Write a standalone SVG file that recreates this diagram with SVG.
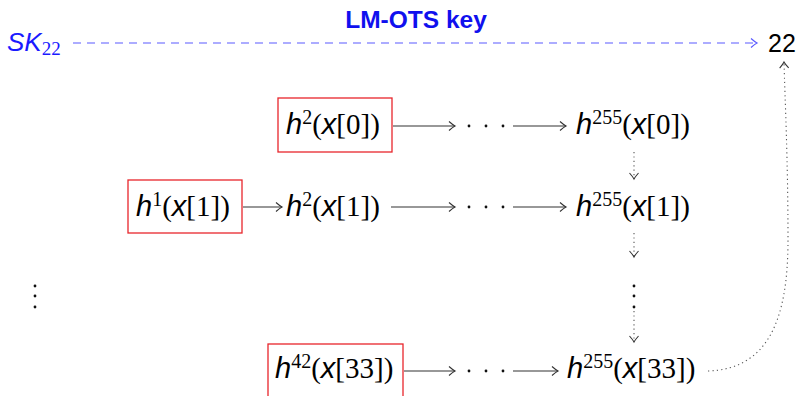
<svg xmlns="http://www.w3.org/2000/svg" width="799" height="396" viewBox="0 0 799 396">
<defs>
<style>
.t{font-size:29px;fill:#000}
.box{fill:none;stroke:#e8262b;stroke-width:1.3}
.ar{fill:none;stroke:#333;stroke-width:1.1}
.dt{fill:none;stroke:#555;stroke-width:1.1;stroke-dasharray:1.2 3.2}
.dot{fill:#111}
</style>
<marker id="ah" viewBox="-8 -6 10 12" markerWidth="10" markerHeight="12" refX="0" refY="0" orient="auto" markerUnits="userSpaceOnUse">
<path d="M-6,-4.5 Q-2,-1 0,0 Q-2,1 -6,4.5" fill="none" stroke="#333" stroke-width="1.1"/>
</marker>
<marker id="ahb" viewBox="-8 -6 10 12" markerWidth="10" markerHeight="12" refX="0" refY="0" orient="auto" markerUnits="userSpaceOnUse">
<path d="M-6,-4.5 Q-2,-1 0,0 Q-2,1 -6,4.5" fill="none" stroke="#5a5aff" stroke-width="1.2"/>
</marker>
</defs>
<rect width="799" height="396" fill="#fff"/>

<g id="title">
<text x="416" y="28" text-anchor="middle" font-family="Liberation Sans, Arial, sans-serif" font-weight="bold" font-size="24.5" fill="#1010ee">LM-OTS key</text>
</g>

<g id="sk22">
<text x="7" y="51" font-size="26" fill="#1a1aff"><tspan font-family="Liberation Sans, sans-serif" font-style="italic">SK</tspan><tspan font-family="Liberation Serif, serif" font-size="19" dy="4">22</tspan></text>
</g>

<g id="n22">
<text x="768" y="52" font-family="Liberation Sans, sans-serif" font-size="25" fill="#000">22</text>
</g>

<g id="r0a">
<rect class="box" x="278" y="98" width="114" height="54"/>
<text class="t" x="286" y="134"><tspan font-family="Liberation Sans, sans-serif" font-style="italic">h</tspan><tspan font-family="Liberation Serif, serif" font-size="20" dy="-10">2</tspan><tspan font-family="Liberation Serif, serif" dy="10">(</tspan><tspan font-family="Liberation Sans, sans-serif" font-style="italic">x</tspan><tspan font-family="Liberation Serif, serif">[0])</tspan></text>
</g>
<g id="r0b">
<text class="t" x="576" y="134"><tspan font-family="Liberation Sans, sans-serif" font-style="italic">h</tspan><tspan font-family="Liberation Serif, serif" font-size="20" dy="-10">255</tspan><tspan font-family="Liberation Serif, serif" dy="10">(</tspan><tspan font-family="Liberation Sans, sans-serif" font-style="italic">x</tspan><tspan font-family="Liberation Serif, serif">[0])</tspan></text>
</g>

<g id="r1a">
<rect class="box" x="128" y="180" width="114" height="53"/>
<text class="t" x="136" y="216"><tspan font-family="Liberation Sans, sans-serif" font-style="italic">h</tspan><tspan font-family="Liberation Serif, serif" font-size="20" dy="-10">1</tspan><tspan font-family="Liberation Serif, serif" dy="10">(</tspan><tspan font-family="Liberation Sans, sans-serif" font-style="italic">x</tspan><tspan font-family="Liberation Serif, serif">[1])</tspan></text>
</g>
<g id="r1b">
<text class="t" x="286" y="216"><tspan font-family="Liberation Sans, sans-serif" font-style="italic">h</tspan><tspan font-family="Liberation Serif, serif" font-size="20" dy="-10">2</tspan><tspan font-family="Liberation Serif, serif" dy="10">(</tspan><tspan font-family="Liberation Sans, sans-serif" font-style="italic">x</tspan><tspan font-family="Liberation Serif, serif">[1])</tspan></text>
</g>
<g id="r1c">
<text class="t" x="576" y="216"><tspan font-family="Liberation Sans, sans-serif" font-style="italic">h</tspan><tspan font-family="Liberation Serif, serif" font-size="20" dy="-10">255</tspan><tspan font-family="Liberation Serif, serif" dy="10">(</tspan><tspan font-family="Liberation Sans, sans-serif" font-style="italic">x</tspan><tspan font-family="Liberation Serif, serif">[1])</tspan></text>
</g>

<g id="r33a">
<rect class="box" x="268" y="344" width="135" height="60"/>
<text class="t" x="275" y="378"><tspan font-family="Liberation Sans, sans-serif" font-style="italic">h</tspan><tspan font-family="Liberation Serif, serif" font-size="20" dy="-10">42</tspan><tspan font-family="Liberation Serif, serif" dy="10">(</tspan><tspan font-family="Liberation Sans, sans-serif" font-style="italic">x</tspan><tspan font-family="Liberation Serif, serif">[33])</tspan></text>
</g>
<g id="r33b">
<text class="t" x="567" y="378"><tspan font-family="Liberation Sans, sans-serif" font-style="italic">h</tspan><tspan font-family="Liberation Serif, serif" font-size="20" dy="-10">255</tspan><tspan font-family="Liberation Serif, serif" dy="10">(</tspan><tspan font-family="Liberation Sans, sans-serif" font-style="italic">x</tspan><tspan font-family="Liberation Serif, serif">[33])</tspan></text>
</g>

<g id="dots">
<circle class="dot" cx="469" cy="126" r="1.4"/><circle class="dot" cx="486" cy="126" r="1.4"/><circle class="dot" cx="503" cy="126" r="1.4"/>
<circle class="dot" cx="469" cy="207" r="1.4"/><circle class="dot" cx="486" cy="207" r="1.4"/><circle class="dot" cx="503" cy="207" r="1.4"/>
<circle class="dot" cx="469" cy="371" r="1.4"/><circle class="dot" cx="486" cy="371" r="1.4"/><circle class="dot" cx="503" cy="371" r="1.4"/>
<circle class="dot" cx="35" cy="286" r="1.4"/><circle class="dot" cx="35" cy="296" r="1.4"/><circle class="dot" cx="35" cy="307" r="1.4"/>
<circle class="dot" cx="634" cy="286" r="1.4"/><circle class="dot" cx="634" cy="296" r="1.4"/><circle class="dot" cx="634" cy="307" r="1.4"/>
</g>

<g id="connectors">
<line x1="73" y1="43" x2="757" y2="43" stroke="#5a5aff" stroke-width="1.2" stroke-dasharray="8 6" marker-end="url(#ahb)"/>
<line class="ar" x1="393" y1="126" x2="455" y2="126" marker-end="url(#ah)"/>
<line class="ar" x1="513" y1="126" x2="566" y2="126" marker-end="url(#ah)"/>
<line class="ar" x1="243" y1="207" x2="282" y2="207" marker-end="url(#ah)"/>
<line class="ar" x1="391" y1="207" x2="455" y2="207" marker-end="url(#ah)"/>
<line class="ar" x1="513" y1="207" x2="566" y2="207" marker-end="url(#ah)"/>
<line class="ar" x1="404" y1="371" x2="455" y2="371" marker-end="url(#ah)"/>
<line class="ar" x1="513" y1="371" x2="558" y2="371" marker-end="url(#ah)"/>
<line class="dt" x1="634" y1="152" x2="634" y2="179" marker-end="url(#ah)"/>
<line class="dt" x1="634" y1="233" x2="634" y2="257" marker-end="url(#ah)"/>
<line class="dt" x1="634" y1="311" x2="634" y2="342" marker-end="url(#ah)"/>
<path class="dt" d="M708,371 C768,369 788,320 788,240 C788,160 785,100 784,62" marker-end="url(#ah)"/>
</g>
</svg>
